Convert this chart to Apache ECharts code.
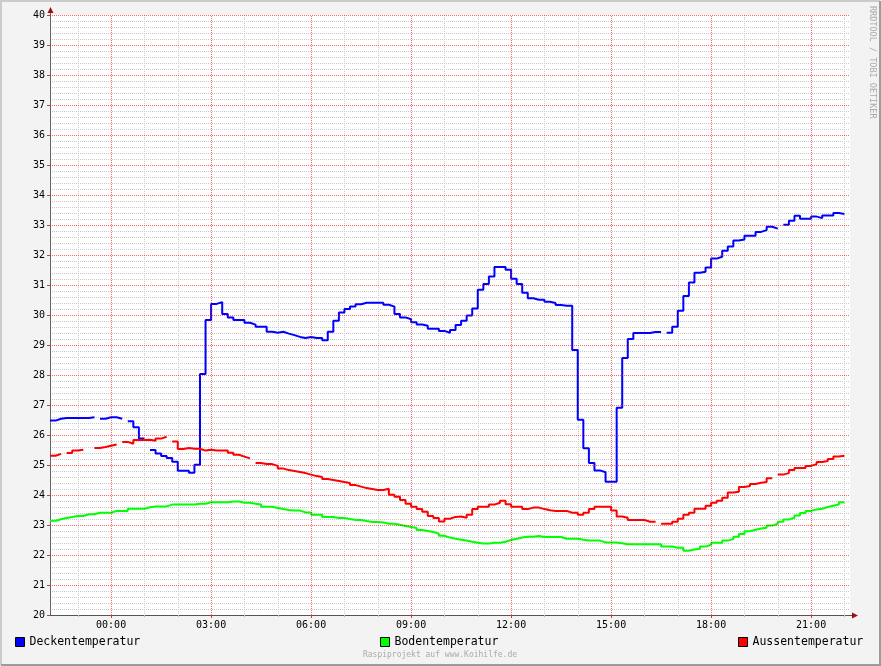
<!DOCTYPE html>
<html>
<head>
<meta charset="utf-8">
<script src="https://cdn.jsdelivr.net/npm/echarts@6/dist/echarts.min.js"></script>
<style>
html, body { margin: 0; padding: 0; background: #f3f3f3; }
#chart { width: 881px; height: 666px; }
</style>
</head>
<body>
<div id="chart"></div>
<script>
// rrd slots: 10 minutes each, first slot starts 22:10 the day before (minutes rel. to 00:00)
const startMin = -110;
const stepMin = 10;

const seriesNames = ['Deckentemperatur', 'Bodentemperatur', 'Aussentemperatur'];

const deckenTemp = [
  26.48, 26.54, 26.57, 26.57, 26.57, 26.57, 26.57, 26.59, null, 26.54,
  26.59, 26.59, 26.54, null, 26.46, 26.26, 25.88, null, 25.50, 25.38,
  25.30, 25.23, 25.11, 24.81, 24.81, 24.74, 25.01, 28.03, 29.83, 30.37,
  30.43, 30.03, 29.92, 29.83, 29.83, 29.74, 29.68, 29.61, 29.61, 29.44,
  29.41, 29.44, 29.38, 29.33, 29.27, 29.23, 29.27, 29.23, 29.23, 29.16,
  29.44, 29.81, 30.08, 30.20, 30.28, 30.36, 30.41, 30.41, 30.41, 30.41,
  30.34, 30.28, 30.03, 29.92, 29.86, 29.76, 29.68, 29.64, 29.54, 29.54,
  29.47, 29.41, 29.50, 29.67, 29.81, 29.98, 30.22, 30.84, 31.03, 31.28,
  31.60, 31.60, 31.51, 31.21, 31.03, 30.74, 30.56, 30.51, 30.51, 30.44,
  30.40, 30.33, 30.31, 30.31, 28.83, 26.51, 25.56, 25.07, 24.82, 24.76,
  24.44, 24.44, 26.91, 28.57, 29.20, 29.40, 29.40, 29.40, 29.43, 29.43,
  null, 29.41, 29.61, 30.14, 30.63, 31.08, 31.41, 31.44, 31.58, 31.88,
  31.94, 32.14, 32.28, 32.48, 32.52, 32.64, 32.64, 32.77, 32.83, 32.94,
  32.88, null, 33.01, 33.14, 33.31, 33.21, 33.21, 33.28, 33.23, 33.32,
  33.32, 33.40, 33.37, null
];

const bodenTemp = [
  23.14, 23.19, 23.23, 23.27, 23.30, 23.30, 23.36, 23.36, 23.41, 23.41,
  23.41, 23.47, 23.47, 23.47, 23.54, 23.54, 23.54, 23.59, 23.62, 23.62,
  23.62, 23.68, 23.68, 23.68, 23.68, 23.68, 23.71, 23.71, 23.76, 23.76,
  23.76, 23.76, 23.78, 23.78, 23.74, 23.74, 23.71, 23.68, 23.61, 23.61,
  23.57, 23.53, 23.50, 23.48, 23.48, 23.42, 23.42, 23.34, 23.34, 23.27,
  23.27, 23.23, 23.23, 23.20, 23.17, 23.17, 23.13, 23.10, 23.10, 23.08,
  23.04, 23.04, 23.01, 22.97, 22.93, 22.90, 22.83, 22.80, 22.77, 22.71,
  22.64, 22.58, 22.54, 22.51, 22.48, 22.44, 22.41, 22.38, 22.38, 22.41,
  22.41, 22.44, 22.50, 22.54, 22.58, 22.61, 22.61, 22.63, 22.60, 22.60,
  22.60, 22.60, 22.54, 22.54, 22.54, 22.51, 22.48, 22.48, 22.48, 22.42,
  22.42, 22.42, 22.39, 22.36, 22.36, 22.36, 22.36, 22.36, 22.36, 22.36,
  22.28, 22.28, 22.24, 22.24, 22.14, 22.18, 22.21, 22.28, 22.34, 22.41,
  22.41, 22.48, 22.53, 22.61, 22.70, 22.79, 22.84, 22.88, 22.91, 22.98,
  23.04, 23.11, 23.18, 23.24, 23.32, 23.40, 23.47, 23.52, 23.54, 23.60,
  23.64, 23.68, 23.76, null
];

const aussenTemp = [
  25.31, 25.37, null, 25.40, 25.48, 25.51, null, null, 25.57, 25.60,
  25.64, 25.68, null, 25.77, 25.71, 25.83, 25.83, 25.84, 25.81, 25.88,
  25.94, null, 25.78, 25.53, 25.57, 25.54, 25.54, 25.48, 25.51, 25.48,
  25.48, 25.48, 25.41, 25.34, 25.28, 25.22, null, 25.07, 25.03, 25.03,
  24.97, 24.88, 24.83, 24.80, 24.77, 24.73, 24.68, 24.63, 24.60, 24.53,
  24.50, 24.47, 24.43, 24.40, 24.33, 24.28, 24.23, 24.20, 24.17, 24.17,
  24.21, 24.01, 23.94, 23.83, 23.71, 23.61, 23.53, 23.44, 23.30, 23.23,
  23.12, 23.21, 23.27, 23.28, 23.24, 23.34, 23.53, 23.61, 23.61, 23.68,
  23.74, 23.81, 23.69, 23.61, 23.61, 23.53, 23.58, 23.58, 23.53, 23.49,
  23.47, 23.47, 23.47, 23.41, 23.41, 23.34, 23.41, 23.53, 23.61, 23.61,
  23.61, 23.48, 23.28, 23.24, 23.17, 23.17, 23.17, 23.11, 23.11, null,
  23.04, 23.04, 23.11, 23.21, 23.34, 23.41, 23.54, 23.54, 23.64, 23.74,
  23.81, 23.91, 24.08, 24.11, 24.27, 24.30, 24.37, 24.41, 24.43, 24.56,
  null, 24.68, 24.73, 24.83, 24.90, 24.90, 24.97, 25.03, 25.10, 25.13,
  25.20, 25.28, 25.31, null
];

// tick positions (minutes rel. to 00:00) and temperature grid
const majorTicks = [0, 180, 360, 540, 720, 900, 1080, 1260];
const minorTicks = [-60, 60, 120, 240, 300, 420, 480, 600, 660, 780, 840, 960, 1020, 1140, 1200, 1320];
const tempTicks = [21, 22, 23, 24, 25, 26, 27, 28, 29, 30, 31, 32, 33, 34, 35, 36, 37, 38, 39, 40];

const mono = 'DejaVu Sans Mono';
const gridColor = '#c8c8c8';

// rrd style step: each value holds for its whole slot
function stepData(values) {
  var out = [];
  values.forEach(function (v, i) {
    var t0 = startMin + i * stepMin;
    if (v == null) { out.push([t0, null]); return; }
    out.push([t0, v], [t0 + stepMin, v]);
  });
  return out;
}

function hhmm(val) {
  var h = ((Math.round(val / 60) % 24) + 24) % 24;
  return (h < 10 ? '0' : '') + h + ':00';
}

var myChart = echarts.init(document.getElementById('chart'));

var lineSeries = function (name, color, values) {
  return {
    name: name,
    type: 'line',
    data: stepData(values),
    showSymbol: false,
    symbol: 'none',
    connectNulls: false,
    lineStyle: { color: color, width: 2 },
    itemStyle: { color: color },
    animation: false
  };
};

var legendBase = function (name, left) {
  return {
    data: [name],
    left: left,
    top: 636,
    padding: 0,
    icon: 'rect',
    itemWidth: 9,
    itemHeight: 9,
    itemStyle: { borderColor: '#000', borderWidth: 1 },
    textStyle: { fontFamily: mono, fontSize: 11.5, color: '#000' },
    selectedMode: false
  };
};

// major grid (red dotted) as mark lines underneath the curves
var majorGrid = {
  name: 'mgrid',
  type: 'line',
  data: [],
  silent: true,
  animation: false,
  markLine: {
    silent: true,
    animation: false,
    symbol: ['none', 'none'],
    label: { show: false },
    lineStyle: { color: '#ff0000', opacity: 0.6, type: [1, 1], width: 1 },
    emphasis: { disabled: true },
    data: majorTicks.map(function (t) { return { xAxis: t }; })
      .concat(tempTicks.map(function (v) { return { yAxis: v }; }))
  }
};

var option = {
  backgroundColor: '#f3f3f3',
  animation: false,
  grid: {
    left: 50, top: 15, width: 800, height: 600,
    show: true, backgroundColor: '#ffffff', borderWidth: 0
  },
  legend: [
    legendBase(seriesNames[0], 15),
    legendBase(seriesNames[1], 380),
    legendBase(seriesNames[2], 738)
  ],
  xAxis: [
    {
      type: 'value', min: startMin, max: startMin + 144 * stepMin,
      axisLine: { show: true, onZero: false, lineStyle: { color: '#555', width: 1 } },
      axisTick: { show: true, length: 3, customValues: majorTicks, lineStyle: { color: '#c04040' } },
      axisLabel: {
        customValues: majorTicks, formatter: hhmm, margin: 5,
        fontFamily: mono, fontSize: 10, color: '#000'
      },
      splitLine: { show: false }
    },
    {
      type: 'value', min: startMin, max: startMin + 144 * stepMin,
      position: 'bottom',
      axisLine: { show: false, onZero: false },
      axisTick: { show: true, length: 2, customValues: minorTicks, lineStyle: { color: '#bbb' } },
      axisLabel: { show: false },
      splitLine: { show: true, lineStyle: { color: gridColor, type: 'dotted', width: 1 } }
    }
  ],
  yAxis: {
    type: 'value', min: 20, max: 40, interval: 1,
    axisLine: { show: true, onZero: false, lineStyle: { color: '#666', width: 1 } },
    axisTick: { show: true, length: 3, lineStyle: { color: '#c04040' } },
    axisLabel: { margin: 5, fontFamily: mono, fontSize: 10, color: '#000' },
    splitLine: { show: false },
    minorTick: { show: false, splitNumber: 5 },
    minorSplitLine: { show: true, lineStyle: { color: gridColor, type: 'dotted', width: 1 } }
  },
  series: [
    majorGrid,
    lineSeries(seriesNames[0], '#0000ff', deckenTemp),
    lineSeries(seriesNames[1], '#00ff00', bodenTemp),
    lineSeries(seriesNames[2], '#ff0000', aussenTemp)
  ],
  graphic: [
    // 3d frame
    { type: 'polyline', shape: { points: [[1, 665], [1, 1], [880, 1]] }, style: { stroke: '#cbcbcb', lineWidth: 2, fill: null }, silent: true },
    { type: 'polyline', shape: { points: [[1, 665], [880, 665], [880, 1]] }, style: { stroke: '#9b9b9b', lineWidth: 2, fill: null }, silent: true },
    // axis arrows
    { type: 'line', shape: { x1: 50.5, y1: 15, x2: 50.5, y2: 10 }, style: { stroke: '#666', lineWidth: 1 }, silent: true },
    { type: 'polygon', shape: { points: [[47.5, 13], [53.5, 13], [50.5, 7]] }, style: { fill: '#9b1010' }, silent: true },
    { type: 'line', shape: { x1: 850, y1: 615.5, x2: 854, y2: 615.5 }, style: { stroke: '#555', lineWidth: 1 }, silent: true },
    { type: 'polygon', shape: { points: [[852, 612.5], [852, 618.5], [858, 615.5]] }, style: { fill: '#9b1010' }, silent: true },
    // watermark + footer
    {
      type: 'text', x: 877, y: 6, rotation: -Math.PI / 2,
      style: { text: 'RRDTOOL / TOBI OETIKER', fontFamily: mono, fontSize: 8.5, fill: '#aaaaaa', textAlign: 'left', textVerticalAlign: 'top' },
      silent: true
    },
    {
      type: 'text', x: 440, y: 655,
      style: { text: 'Raspiprojekt auf www.Koihilfe.de', fontFamily: mono, fontSize: 8, fill: '#aaaaaa', textAlign: 'center', textVerticalAlign: 'middle' },
      silent: true
    }
  ]
};

myChart.setOption(option);
</script>
</body>
</html>
